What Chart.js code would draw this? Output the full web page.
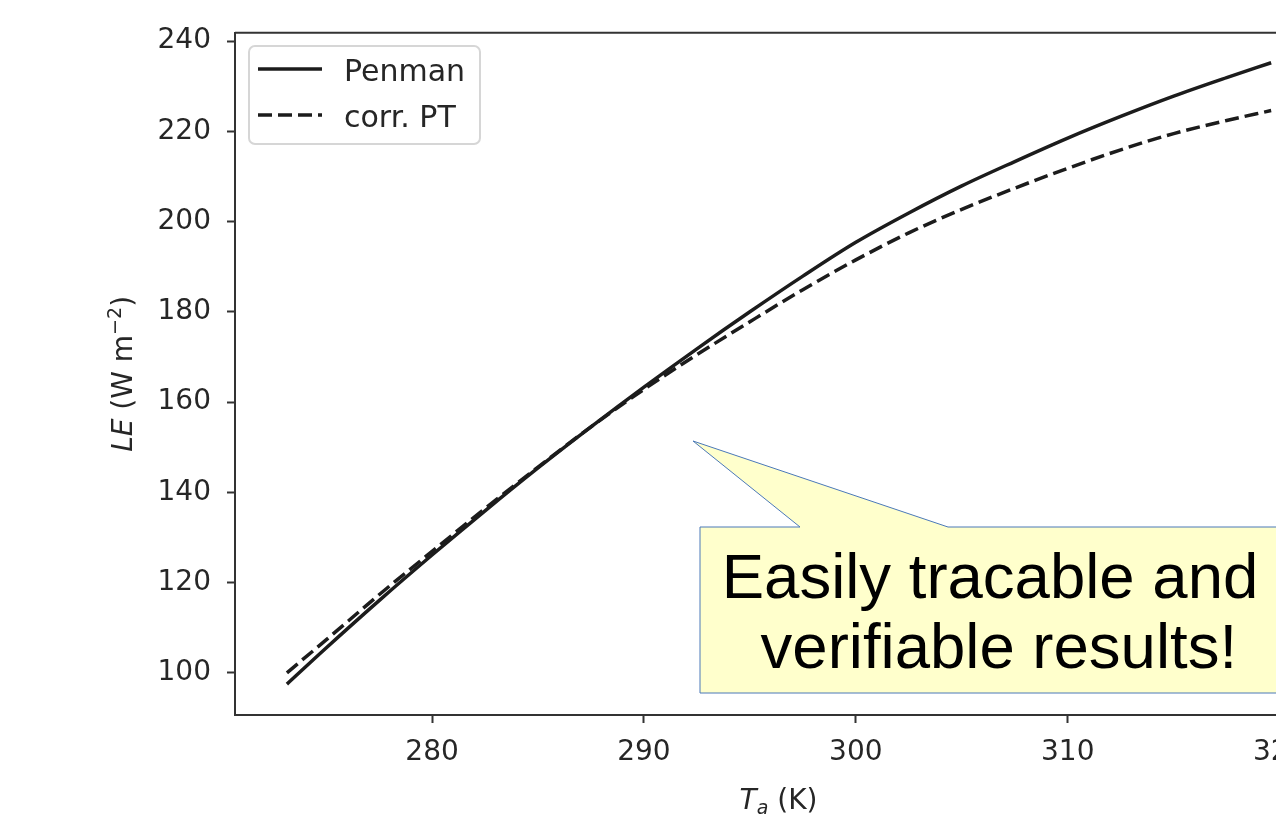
<!DOCTYPE html>
<html lang="en">
<head>
<meta charset="UTF-8">
<title>LE vs air temperature</title>
<script src="https://cdn.jsdelivr.net/npm/chart.js"></script>
<style>
  html, body { margin: 0; padding: 0; background: #fff; overflow: hidden; }
  #wrap { position: absolute; left: 0; top: 0; width: 1400px; height: 815px; }
</style>
</head>
<body>
<div id="wrap"><canvas id="leChart" width="1400" height="815"></canvas></div>
<script>
// air temperature (K)
const tempK = [273.15, 275, 277.5, 280, 282.5, 285, 287.5, 290, 292.5, 295,
               297.5, 300, 302.5, 305, 307.5, 310, 312.5, 315, 317.5, 319.6];
// latent heat flux (W m-2)
const lePenman = [97.5, 105.5, 116.0, 126.1, 135.9, 145.4, 154.5, 163.3, 171.8, 180.0,
                  187.9, 195.4, 201.9, 207.9, 213.3, 218.5, 223.3, 227.8, 231.9, 235.2];
const leCorrPT = [100.0, 107.3, 117.3, 126.9, 136.4, 145.6, 154.5, 162.8, 170.5, 177.8,
                  184.9, 191.5, 197.5, 202.7, 207.4, 211.8, 215.9, 219.5, 222.4, 224.6];
const xTicks = [280, 290, 300, 310, 320];
const yTicks = [100, 120, 140, 160, 180, 200, 220, 240];

const axisColor = '#333';
const textColor = '#262626';
const lineColor = '#1c1c1c';

function toPoints(ys) {
    return tempK.map((t, i) => ({ x: t, y: ys[i] }));
}

// legend box like matplotlib's
const legendBox = {
    id: 'legendBox',
    afterDraw(chart) {
        const ctx = chart.ctx;
        ctx.save();
        ctx.fillStyle = 'rgba(255,255,255,0.85)';
        ctx.strokeStyle = '#d6d6d6';
        ctx.lineWidth = 2;
        ctx.beginPath();
        ctx.roundRect(249, 46, 231, 98, 6);
        ctx.fill();
        ctx.stroke();
        const rows = [69, 115];
        chart.data.datasets.forEach((ds, i) => {
            ctx.strokeStyle = ds.borderColor;
            ctx.lineWidth = ds.borderWidth;
            ctx.setLineDash(ds.borderDash || []);
            ctx.beginPath();
            ctx.moveTo(258, rows[i]);
            ctx.lineTo(322, rows[i]);
            ctx.stroke();
            ctx.setLineDash([]);
            ctx.fillStyle = textColor;
            ctx.font = '30px "DejaVu Sans"';
            ctx.textBaseline = 'middle';
            ctx.textAlign = 'left';
            ctx.fillText(ds.label, 344, rows[i] + 4);
        });
        ctx.restore();
    }
};

// top/right spines, axis titles, callout
const extras = {
    id: 'extras',
    afterDraw(chart) {
        const ctx = chart.ctx;
        const a = chart.chartArea;
        ctx.save();
        ctx.strokeStyle = axisColor;
        ctx.lineWidth = 2;
        ctx.beginPath();
        ctx.moveTo(a.left, a.top);
        ctx.lineTo(a.right, a.top);
        ctx.lineTo(a.right, a.bottom);
        ctx.stroke();

        // x title: T_a (K)
        ctx.fillStyle = textColor;
        ctx.textBaseline = 'alphabetic';
        ctx.textAlign = 'left';
        const xc = (a.left + a.right) / 2;
        const parts = [
            ['italic 28px "DejaVu Sans"', 'T', 0],
            ['italic 19px "DejaVu Sans"', 'a', 5],
            ['28px "DejaVu Sans"', ' (K)', 0]
        ];
        let w = 0;
        parts.forEach(p => { ctx.font = p[0]; w += ctx.measureText(p[1]).width; });
        let x = xc - w / 2;
        parts.forEach(p => {
            ctx.font = p[0];
            ctx.fillText(p[1], x, 809 + p[2]);
            x += ctx.measureText(p[1]).width;
        });

        // y title: LE (W m^-2)
        const yc = (a.top + a.bottom) / 2;
        ctx.translate(132, yc);
        ctx.rotate(-Math.PI / 2);
        const yparts = [
            ['italic 28px "DejaVu Sans"', 'LE', 0],
            ['28px "DejaVu Sans"', ' (W m', 0],
            ['19px "DejaVu Sans"', '\u22122', -11],
            ['28px "DejaVu Sans"', ')', 0]
        ];
        w = 0;
        yparts.forEach(p => { ctx.font = p[0]; w += ctx.measureText(p[1]).width; });
        x = -w / 2;
        yparts.forEach(p => {
            ctx.font = p[0];
            ctx.fillText(p[1], x, p[2]);
            x += ctx.measureText(p[1]).width;
        });
        ctx.setTransform(1, 0, 0, 1, 0, 0);

        // speech-bubble callout
        ctx.fillStyle = '#ffffcc';
        ctx.strokeStyle = '#4a78b8';
        ctx.lineWidth = 1;
        ctx.beginPath();
        ctx.moveTo(700, 527);
        ctx.lineTo(800, 527);
        ctx.lineTo(693, 441);
        ctx.lineTo(948, 527);
        ctx.lineTo(1300, 527);
        ctx.lineTo(1300, 693);
        ctx.lineTo(700, 693);
        ctx.closePath();
        ctx.fill();
        ctx.stroke();
        ctx.fillStyle = '#000';
        ctx.font = '63.5px "Liberation Sans"';
        ctx.textAlign = 'center';
        ctx.fillText('Easily tracable and', 990, 598);
        ctx.fillText(' verifiable results!', 990, 668);
        ctx.restore();
    }
};

new Chart(document.getElementById('leChart'), {
    type: 'line',
    data: {
        datasets: [{
            label: 'Penman',
            data: toPoints(lePenman),
            borderColor: lineColor,
            borderWidth: 3.5,
            pointRadius: 0,
            cubicInterpolationMode: 'monotone',
            fill: false
        }, {
            label: 'corr. PT',
            data: toPoints(leCorrPT),
            borderColor: lineColor,
            borderWidth: 3.5,
            borderDash: [14, 6],
            pointRadius: 0,
            cubicInterpolationMode: 'monotone',
            fill: false
        }]
    },
    options: {
        responsive: false,
        animation: false,
        layout: { padding: { top: 31, right: 78, left: 0, bottom: 0 } },
        plugins: {
            legend: { display: false },
            tooltip: { enabled: false }
        },
        scales: {
            x: {
                type: 'linear',
                min: 270.7,
                max: 322,
                afterBuildTicks: s => { s.ticks = xTicks.map(v => ({ value: v })); },
                afterFit: s => { s.height = 100; },
                grid: { drawOnChartArea: false, drawTicks: true, tickLength: 8, tickWidth: 2, tickColor: axisColor },
                border: { display: true, color: axisColor, width: 2 },
                ticks: {
                    font: { family: 'DejaVu Sans', size: 28 },
                    color: textColor,
                    padding: 13,
                    maxRotation: 0,
                    autoSkip: false
                }
            },
            y: {
                type: 'linear',
                min: 90.65,
                max: 241.83,
                afterBuildTicks: s => { s.ticks = yTicks.map(v => ({ value: v })); },
                afterFit: s => { s.width = 235; },
                grid: { drawOnChartArea: false, drawTicks: true, tickLength: 8, tickWidth: 2, tickColor: axisColor },
                border: { display: true, color: axisColor, width: 2 },
                ticks: {
                    font: { family: 'DejaVu Sans', size: 28 },
                    color: textColor,
                    padding: 16,
                    autoSkip: false
                }
            }
        }
    },
    plugins: [legendBox, extras]
});
</script>
</body>
</html>
